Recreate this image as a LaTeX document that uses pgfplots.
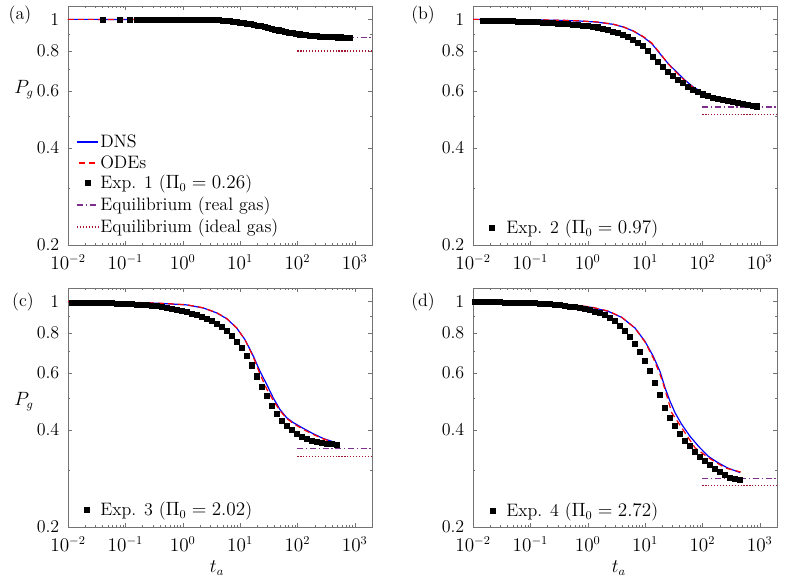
\documentclass[border=0pt]{standalone}
\usepackage{pgfplots}
\pgfplotsset{compat=1.18}
\definecolor{mpurple}{rgb}{0.494,0.184,0.556}
\definecolor{mdred}{rgb}{0.635,0.078,0.184}
\newcommand{\fs}{\fontsize{13.5}{16}\selectfont}
\pgfplotsset{
 every axis/.append style={
  xmode=log, ymode=log, scale only axis, width=228pt, height=179.25pt,
  xmin=0.01, xmax=2000, ymin=0.2, ymax=1.1,
  ytick={0.2,0.4,0.6,0.8,1}, yticklabels={0.2,0.4,0.6,0.8,1},
  minor ytick={0.3,0.5,0.7,0.9},
  tick align=inside, major tick length=3pt, minor tick length=1.6pt,
  axis line style={black!55},
  font=\fs,
  yticklabel style={xshift=-3pt},
  xticklabel style={yshift=-3.5pt},
 },
 every tick/.append style={black!55},
 every tick label/.append style={font=\fs},
}
\tikzset{
 legtxt/.style={anchor=base west, inner sep=0pt, yshift=-4.2pt, font=\fs, text=black},
 legsq/.style={fill=black, draw=black, inner sep=0pt, minimum size=3.8pt, line width=0.2pt},
}
\begin{document}
\begin{tikzpicture}
\useasboundingbox (0,0) rectangle (591.75pt,-435pt);
% ---------------- (a)
\begin{axis}[at={(51pt,-4.5pt)}, anchor=north west]
\addplot[black, only marks, mark=square*, mark size=1.9pt, mark options={solid, fill=black}] coordinates {(0.04,1.0)(0.08,1.0)(0.12,1.0)(0.16,1.0)(0.2,1.0)(0.24,1.0)(0.28,1.0)(0.32,1.0)(0.36,1.0)(0.4,1.0)(0.46,1.0)(0.53,1.0)(0.61,1.0)(0.70,1.0)(0.81,1.0)(0.93,1.0)(1.07,1.0)(1.23,1.0)(1.41,1.0)(1.62,0.999)(1.87,0.999)(2.15,0.999)(2.47,0.998)(2.84,0.997)(3.27,0.996)(3.76,0.995)(4.32,0.994)(4.97,0.992)(5.72,0.990)(6.57,0.988)(7.56,0.985)(8.7,0.982)(10,0.979)(11.5,0.975)(13.2,0.971)(15.2,0.967)(17.5,0.963)(20.1,0.958)(23.1,0.953)(26.6,0.948)(30.6,0.942)(35.2,0.936)(40.4,0.931)(46.5,0.925)(53.5,0.919)(61.5,0.915)(70.7,0.910)(81.3,0.906)(93.5,0.902)(108,0.899)(124,0.896)(142,0.893)(164,0.891)(188,0.889)(216,0.887)(249,0.885)(286,0.884)(329,0.883)(378,0.882)(435,0.881)(500,0.880)(575,0.880)(662,0.879)(761,0.878)(826,0.878)};
\addplot[blue, line width=0.9pt, no marks] coordinates {(0.01,1.0)(0.5,0.999)(1,0.998)(2,0.996)(3,0.994)(5,0.988)(8,0.979)(12,0.968)(18,0.955)(25,0.943)(35,0.929)(50,0.915)(70,0.903)(100,0.894)(150,0.887)(250,0.881)(400,0.878)(826,0.876)};
\addplot[red, line width=0.9pt, dash pattern=on 4.5pt off 3pt, no marks] coordinates {(0.01,1.0)(0.5,0.999)(1,0.998)(2,0.996)(3,0.993)(5,0.987)(8,0.978)(12,0.966)(18,0.953)(25,0.941)(35,0.927)(50,0.913)(70,0.902)(100,0.893)(150,0.886)(250,0.881)(400,0.878)(826,0.877)};
\addplot[mpurple, line width=0.9pt, dash pattern=on 4.5pt off 2pt on 1pt off 2pt, no marks] coordinates {(100,0.878)(2000,0.878)};
\addplot[mdred, line width=0.9pt, dash pattern=on 0.9pt off 1.3pt, no marks] coordinates {(100,0.798)(2000,0.798)};
% legend keys
\draw[blue, line width=0.9pt] (axis description cs:0.0296,0.431) -- (axis description cs:0.0987,0.431);
\draw[red, line width=0.9pt, dash pattern=on 4.5pt off 3pt, dash phase=-1.2pt] (axis description cs:0.0296,0.343) -- (axis description cs:0.0987,0.343);
\node[legsq] at (axis description cs:0.0658,0.259) {};
\draw[mpurple, line width=0.9pt, dash pattern=on 4.5pt off 2pt on 1pt off 2pt] (axis description cs:0.0296,0.167) -- (axis description cs:0.0987,0.167);
\draw[mdred, line width=0.9pt, dash pattern=on 0.9pt off 1.3pt] (axis description cs:0.0296,0.075) -- (axis description cs:0.0987,0.075);
\node[legtxt] at (axis description cs:0.1053,0.431) {DNS};
\node[legtxt] at (axis description cs:0.1053,0.343) {ODEs};
\node[legtxt] at (axis description cs:0.1053,0.259) {Exp. 1 ($\Pi_0=0.26$)};
\node[legtxt] at (axis description cs:0.1053,0.167) {Equilibrium (real gas)};
\node[legtxt] at (axis description cs:0.1053,0.075) {Equilibrium (ideal gas)};
\end{axis}
% ---------------- (b)
\begin{axis}[at={(354.75pt,-4.5pt)}, anchor=north west]
\addplot[black, only marks, mark=square*, mark size=1.9pt, mark options={solid, fill=black}] coordinates {(0.015,0.992)(0.0183,0.991)(0.0224,0.990)(0.0274,0.990)(0.0335,0.989)(0.0409,0.988)(0.05,0.987)(0.0611,0.986)(0.0747,0.985)(0.0913,0.984)(0.1116,0.983)(0.1364,0.981)(0.1667,0.979)(0.2037,0.977)(0.2489,0.975)(0.3042,0.972)(0.3717,0.969)(0.4542,0.966)(0.555,0.963)(0.6783,0.960)(0.8289,0.957)(1.013,0.953)(1.238,0.949)(1.513,0.945)(1.849,0.938)(2.259,0.929)(2.761,0.918)(3.374,0.907)(4.123,0.895)(5.038,0.882)(6.157,0.867)(7.524,0.848)(9.194,0.826)(11.24,0.799)(13.73,0.767)(16.78,0.738)(20.5,0.711)(25.05,0.688)(30.62,0.669)(37.41,0.652)(45.72,0.636)(55.87,0.620)(68.27,0.606)(83.43,0.596)(101.9,0.586)(124.6,0.578)(152.3,0.572)(186.1,0.567)(227.4,0.562)(277.9,0.558)(339.5,0.555)(414.9,0.552)(507.1,0.548)(619.6,0.544)(757.2,0.540)(880,0.538)};
\addplot[blue, line width=0.9pt, no marks] coordinates {(0.01,1.0)(0.1,0.997)(0.4,0.992)(0.735,0.988)(1.43,0.981)(2.80,0.965)(4.18,0.947)(6.24,0.920)(9.33,0.882)(13.1,0.841)(18.2,0.783)(25.4,0.729)(35.6,0.687)(49.8,0.648)(69.4,0.617)(97,0.596)(136,0.578)(203,0.564)(303,0.556)(453,0.550)(676,0.543)(885,0.538)};
\addplot[red, line width=0.9pt, dash pattern=on 4.5pt off 3pt, no marks] coordinates {(0.01,1.0)(0.1,0.997)(0.4,0.993)(0.735,0.989)(1.43,0.982)(2.80,0.966)(4.18,0.948)(6.24,0.921)(9.33,0.884)(13.1,0.845)(18.2,0.786)(25.4,0.727)(35.6,0.683)(49.8,0.645)(69.4,0.615)(97,0.594)(136,0.577)(203,0.564)(303,0.556)(453,0.549)(676,0.543)(885,0.538)};
\addplot[mpurple, line width=0.9pt, dash pattern=on 4.5pt off 2pt on 1pt off 2pt, no marks] coordinates {(100,0.535)(2000,0.535)};
\addplot[mdred, line width=0.9pt, dash pattern=on 0.9pt off 1.3pt, no marks] coordinates {(100,0.508)(2000,0.508)};
\node[legsq] at (axis description cs:0.0625,0.0711) {};
\node[legtxt] at (axis description cs:0.1086,0.0711) {Exp. 2 ($\Pi_0=0.97$)};
\end{axis}
% ---------------- (c)
\begin{axis}[at={(51pt,-216pt)}, anchor=north west,
  xlabel={$t_a$}, xlabel style={at={(axis description cs:0.49,-0.172)}, anchor=center}]
\addplot[black, only marks, mark=square*, mark size=1.9pt, mark options={solid, fill=black}] coordinates {(0.0116,0.993)(0.01418,0.993)(0.01733,0.992)(0.02117,0.992)(0.02587,0.991)(0.03162,0.990)(0.03864,0.989)(0.04722,0.988)(0.0577,0.987)(0.0705,0.986)(0.0862,0.985)(0.1053,0.983)(0.1287,0.981)(0.1573,0.979)(0.1922,0.977)(0.2349,0.974)(0.287,0.971)(0.3507,0.966)(0.4286,0.961)(0.5238,0.955)(0.64,0.949)(0.782,0.943)(0.956,0.936)(1.168,0.927)(1.427,0.917)(1.744,0.907)(2.131,0.896)(2.604,0.884)(3.183,0.870)(3.889,0.855)(4.753,0.836)(5.808,0.813)(7.097,0.784)(8.673,0.752)(10.6,0.717)(12.95,0.679)(15.83,0.634)(19.34,0.586)(23.63,0.545)(28.88,0.510)(35.29,0.476)(43.13,0.449)(52.7,0.428)(64.4,0.412)(78.7,0.399)(96.2,0.389)(117.5,0.381)(143.6,0.375)(175.5,0.371)(214.5,0.368)(262.1,0.365)(320.3,0.363)(391.4,0.361)(478.3,0.360)};
\addplot[blue, line width=0.9pt, no marks] coordinates {(0.01,0.998)(0.1,0.993)(0.3,0.988)(0.6,0.982)(1.17,0.975)(2.29,0.954)(3.92,0.921)(5.85,0.884)(8.74,0.827)(12.2,0.761)(17.1,0.676)(22.3,0.607)(29.2,0.553)(38,0.502)(49.8,0.462)(65,0.436)(85,0.421)(127,0.404)(189,0.389)(283,0.376)(423,0.367)(517,0.363)};
\addplot[red, line width=0.9pt, dash pattern=on 4.5pt off 3pt, no marks] coordinates {(0.01,0.999)(0.1,0.994)(0.3,0.989)(0.6,0.983)(1.17,0.976)(2.29,0.955)(3.92,0.922)(5.85,0.885)(8.74,0.828)(12.2,0.760)(17.1,0.672)(22.3,0.595)(29.2,0.535)(38,0.493)(49.8,0.458)(65,0.434)(85,0.418)(127,0.401)(189,0.387)(283,0.375)(423,0.366)(517,0.363)};
\addplot[mpurple, line width=0.9pt, dash pattern=on 4.5pt off 2pt on 1pt off 2pt, no marks] coordinates {(100,0.3495)(2000,0.3495)};
\addplot[mdred, line width=0.9pt, dash pattern=on 0.9pt off 1.3pt, no marks] coordinates {(100,0.3315)(2000,0.3315)};
\node[legsq] at (axis description cs:0.0625,0.0711) {};
\node[legtxt] at (axis description cs:0.1053,0.0711) {Exp. 3 ($\Pi_0=2.02$)};
\end{axis}
% ---------------- (d)
\begin{axis}[at={(354.75pt,-216pt)}, anchor=north west,
  xlabel={$t_a$}, xlabel style={at={(axis description cs:0.48,-0.172)}, anchor=center}]
\addplot[black, only marks, mark=square*, mark size=1.9pt, mark options={solid, fill=black}] coordinates {(0.0108,0.996)(0.0132,0.996)(0.01613,0.995)(0.01971,0.995)(0.02409,0.994)(0.02944,0.994)(0.03597,0.993)(0.04396,0.992)(0.05372,0.991)(0.06564,0.990)(0.08021,0.990)(0.09802,0.989)(0.1198,0.987)(0.1464,0.985)(0.1789,0.983)(0.2186,0.981)(0.2671,0.978)(0.3264,0.975)(0.3989,0.970)(0.4875,0.965)(0.5957,0.960)(0.728,0.956)(0.8896,0.950)(1.087,0.942)(1.328,0.931)(1.623,0.920)(1.984,0.908)(2.424,0.891)(2.962,0.871)(3.62,0.843)(4.423,0.810)(5.405,0.777)(6.605,0.739)(8.072,0.697)(9.864,0.653)(12.05,0.608)(14.73,0.558)(18.0,0.512)(22.0,0.469)(26.88,0.437)(32.85,0.411)(40.14,0.389)(49.05,0.371)(59.94,0.356)(73.25,0.343)(89.51,0.331)(109.4,0.320)(133.7,0.311)(163.3,0.302)(199.6,0.296)(243.9,0.290)(298,0.285)(364.2,0.282)(445,0.280)};
\addplot[blue, line width=0.9pt, no marks] coordinates {(0.01,0.998)(0.1,0.993)(0.3,0.985)(0.6,0.972)(1.17,0.958)(2.29,0.931)(3.92,0.892)(6.68,0.827)(9.97,0.752)(13.9,0.676)(18.2,0.607)(22.3,0.540)(27.2,0.491)(33.3,0.452)(43.5,0.416)(60.8,0.382)(85,0.356)(127,0.331)(189,0.316)(283,0.304)(453,0.295)};
\addplot[red, line width=0.9pt, dash pattern=on 4.5pt off 3pt, no marks] coordinates {(0.01,0.999)(0.1,0.994)(0.3,0.986)(0.6,0.974)(1.17,0.960)(2.29,0.933)(3.92,0.893)(6.68,0.826)(9.97,0.749)(13.9,0.668)(18.2,0.595)(20.8,0.555)(29.2,0.452)(43.5,0.406)(74.3,0.352)(127,0.328)(248,0.305)(466,0.296)};
\addplot[mpurple, line width=0.9pt, dash pattern=on 4.5pt off 2pt on 1pt off 2pt, no marks] coordinates {(100,0.282)(2000,0.282)};
\addplot[mdred, line width=0.9pt, dash pattern=on 0.9pt off 1.3pt, no marks] coordinates {(100,0.269)(2000,0.269)};
\node[legsq] at (axis description cs:0.0658,0.067) {};
\node[legtxt] at (axis description cs:0.1086,0.067) {Exp. 4 ($\Pi_0=2.72$)};
\end{axis}
\node[font=\fs] at (15pt,-11.25pt) {(a)};
\node[font=\fs] at (317.25pt,-11.25pt) {(b)};
\node[font=\fs] at (17.25pt,-226.5pt) {(c)};
\node[font=\fs] at (317.25pt,-226.5pt) {(d)};
\node[font=\fs] at (18pt,-67.5pt) {$P_g$};
\node[font=\fs] at (18pt,-301.3pt) {$P_g$};
\end{tikzpicture}
\end{document}
